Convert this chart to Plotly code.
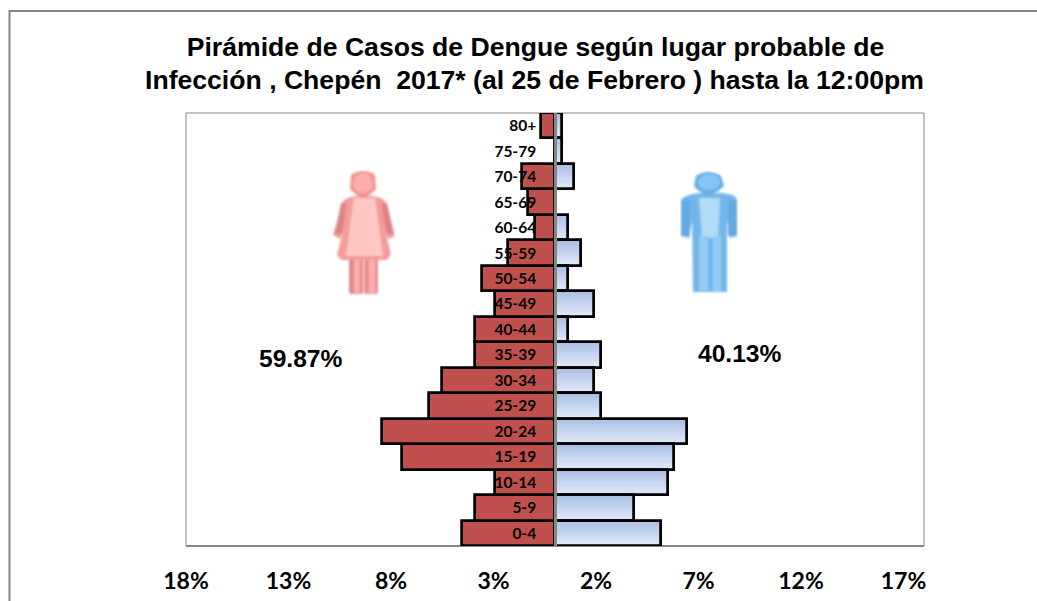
import base64
import plotly.graph_objects as go

age_groups = ["0-4", "5-9", "10-14", "15-19", "20-24", "25-29", "30-34", "35-39", "40-44",
              "45-49", "50-54", "55-59", "60-64", "65-69", "70-74", "75-79", "80+"]
female_pct = [4.55, 3.9, 2.93, 7.46, 8.45, 6.15, 5.53, 3.9, 3.9, 2.93, 3.57, 2.28, 0.97, 1.3, 1.62, 0, 0.68]
male_pct = [5.17, 3.85, 5.5, 5.8, 6.44, 2.24, 1.9, 2.24, 0.63, 1.9, 0.63, 1.27, 0.63, 0, 0.95, 0.32, 0.32]
tick_values = [-18, -13, -8, -3, 2, 7, 12, 17]
tick_labels = ["18%", "13%", "8%", "3%", "2%", "7%", "12%", "17%"]
title_line_1 = "Pirámide de Casos de Dengue según lugar probable de"
title_line_2 = "Infección , Chepén\u00a0\u00a02017* (al 25 de Febrero ) hasta la 12:00pm"
female_share = "59.87%"
male_share = "40.13%"

GRAY = "#868686"
ARIAL = "Liberation Sans, Arial, sans-serif"
CALIBRI = "Lato, Carlito, Calibri, sans-serif"


def svg_uri(body, w, h):
    svg = (f'<svg xmlns="http://www.w3.org/2000/svg" width="{w}" height="{h}" viewBox="0 0 {w} {h}">'
           f'<defs><filter id="b" x="-20%" y="-20%" width="140%" height="140%">'
           f'<feGaussianBlur stdDeviation="1.3"/></filter></defs><g filter="url(#b)">{body}</g></svg>')
    return "data:image/svg+xml;base64," + base64.b64encode(svg.encode()).decode()


woman = svg_uri(
    '<rect x="16" y="86" width="14" height="38" rx="2" fill="#dd8a8a"/>'
    '<rect x="31" y="86" width="14" height="38" rx="2" fill="#e89090"/>'
    '<rect x="21" y="88" width="6" height="35" fill="#ffb0ae"/>'
    '<rect x="36" y="88" width="6" height="35" fill="#ffb0ae"/>'
    '<path d="M10 31 Q15 27 22 26 L40 26 Q48 27 52 31 L62 66 L55 69 L52 60 L58 84 L54 90 L8 90 L4 85 L10 60 L7 69 L0 65 Z" fill="#f49c9c"/>'
    '<path d="M21 28 L42 28 L50 86 L13 86 Z" fill="#ffc8c4"/>'
    '<path d="M8 33 L14 33 L9 64 L2 64 Z" fill="#dc8484"/>'
    '<path d="M48 33 L54 33 L61 64 L54 64 Z" fill="#dc8484"/>'
    '<path d="M18 5 Q30 -3 42 5 L43 19 Q36 27 30 27 Q24 27 17 19 Z" fill="#f29292"/>'
    '<ellipse cx="30" cy="13" rx="10" ry="10" fill="#ffacac"/>', 62, 126)

man = svg_uri(
    '<path d="M4 27 Q10 24 18 23 L42 23 Q50 24 55 26 L57 30 L57 66 L50 68 L47 50 L47 122 L13 122 L12 50 L9 68 L1 66 L1 30 Z" fill="#74b6ea"/>'
    '<rect x="1" y="30" width="9" height="36" fill="#64aae2"/>'
    '<rect x="48" y="30" width="9" height="36" fill="#64aae2"/>'
    '<path d="M19 28 L40 28 L38 68 L22 68 Z" fill="#b2dcf6"/>'
    '<rect x="19" y="66" width="9" height="55" fill="#92ccf4"/>'
    '<rect x="33" y="66" width="8" height="55" fill="#92ccf4"/>'
    '<path d="M16 6 Q28 -2 41 6 L44 16 Q36 24 29 24 Q20 24 14 16 Z" fill="#66ace4"/>'
    '<ellipse cx="29" cy="12" rx="11" ry="8" fill="#84c6f6"/>', 58, 124)

fig = go.Figure()

# Female bars
fig.add_trace(go.Bar(y=age_groups, x=[-v for v in female_pct], orientation="h",
                     marker=dict(color="#c0504d", line=dict(color="#000000", width=2.75)),
                     hoverinfo="skip"))

# Male bars: vertical gradient built from thin stacked strips of each bar (light at the bottom)
strip_colors = ["#dfe8f8", "#dae4f6", "#d4e0f4", "#cfdbf3", "#c9d7f1", "#c3d2ef",
                "#bdcdec", "#b8c9ea", "#b2c4e8", "#acbfe6"]
n = len(strip_colors)
for i, c in enumerate(strip_colors):
    fig.add_trace(go.Bar(y=age_groups, x=male_pct, orientation="h",
                         offset=-0.5 + i / n, width=1 / n,
                         marker=dict(color=c, line=dict(width=0)), hoverinfo="skip"))
fig.add_trace(go.Bar(y=age_groups, x=male_pct, orientation="h",
                     marker=dict(color="rgba(0,0,0,0)", line=dict(color="#000000", width=2.75)),
                     hoverinfo="skip"))

fig.update_layout(
    width=1037, height=601, autosize=False,
    margin=dict(l=186, r=113, t=113, b=55, pad=0),
    paper_bgcolor="white", plot_bgcolor="white",
    showlegend=False, barmode="overlay", bargap=0,
    title=dict(text=title_line_1, x=535.5 / 1037, xanchor="center", y=1 - 47 / 601, yanchor="middle",
               font=dict(family=ARIAL, size=26.6, color="black", weight="bold"), automargin=False),
    xaxis=dict(range=[-18, 18], tickmode="array", tickvals=tick_values, ticktext=tick_labels,
               showgrid=False, zeroline=False, showline=False, ticks="", ticklabelstandoff=19,
               automargin=False,
               tickfont=dict(family=CALIBRI, size=23, color="black", weight="bold")),
    yaxis=dict(type="category", categoryorder="array", categoryarray=age_groups, range=[-0.5, 16.5],
               anchor="free", position=0.5, showgrid=False, zeroline=False, automargin=False,
               showline=True, linecolor=GRAY, linewidth=2.5, ticks="", ticklabelstandoff=15,
               tickfont=dict(family=CALIBRI, size=15.5, color="black", weight="bold")),
    annotations=[
        dict(text=title_line_2, xref="paper", yref="paper", x=(534.5 - 186) / 738, y=1 + (113 - 80) / 433,
             xanchor="center", yanchor="middle", showarrow=False,
             font=dict(family=ARIAL, size=26.6, color="black", weight="bold")),
        dict(text=female_share, x=-12.4, y=6.87, xref="x", yref="y", showarrow=False,
             xanchor="center", yanchor="middle",
             font=dict(family=ARIAL, size=24.6, color="black", weight="bold")),
        dict(text=male_share, x=9.0, y=7.05, xref="x", yref="y", showarrow=False,
             xanchor="center", yanchor="middle",
             font=dict(family=ARIAL, size=24.6, color="black", weight="bold")),
    ],
    shapes=[
        # plot frame
        dict(type="rect", xref="x domain", yref="y domain", x0=0, x1=1, y0=0, y1=1,
             line=dict(color=GRAY, width=1), layer="below"),
        dict(type="line", xref="x domain", yref="y domain", x0=0, x1=1, y0=0, y1=0,
             line=dict(color=GRAY, width=2), layer="below"),
        # outer chart frame, open past the right and bottom of the window
        dict(type="rect", xref="paper", yref="paper",
             x0=(9.5 - 186) / 738, x1=(1100 - 186) / 738, y0=(546 - 700) / 433, y1=(546 - 11) / 433,
             line=dict(color=GRAY, width=2), layer="below"),
    ],
    images=[
        dict(source=woman, xref="paper", yref="paper", x=(333 - 186) / 738, y=(546 - 170) / 433,
             sizex=62 / 738, sizey=126 / 433, xanchor="left", yanchor="top", sizing="stretch", layer="below"),
        dict(source=man, xref="paper", yref="paper", x=(680 - 186) / 738, y=(546 - 170) / 433,
             sizex=58 / 738, sizey=124 / 433, xanchor="left", yanchor="top", sizing="stretch", layer="below"),
    ],
)

fig.write_html("out.html", config={"displayModeBar": False},
               post_script="document.body.style.margin='0';document.documentElement.style.overflow='hidden';")
